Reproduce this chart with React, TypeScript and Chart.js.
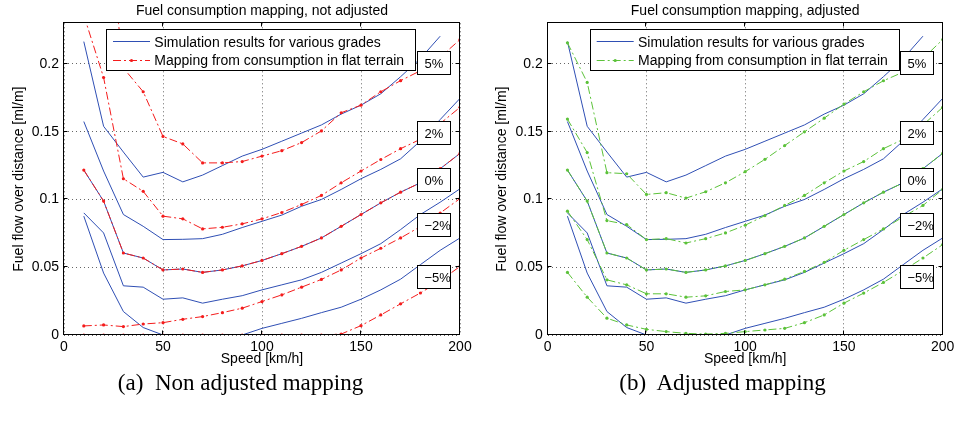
import React, { useEffect, useRef } from 'react';
import { Chart, registerables } from 'chart.js';

Chart.register(...registerables);

// Vehicle speed [km/h] at which every curve is sampled
const speeds = [10, 20, 30, 40, 50, 60, 70, 80, 90, 100, 110, 120, 130, 140, 150, 160, 170, 180, 190, 200];

// Simulated fuel flow over distance [ml/m] for each road grade
const simGrade5 = [0.2165, 0.154, 0.135, 0.1165, 0.12, 0.113, 0.118, 0.125, 0.132, 0.137, 0.143, 0.149, 0.155, 0.163, 0.1696, 0.178, 0.1906, 0.204, 0.2205, null];
const simGrade2 = [0.1575, 0.121, 0.0889, 0.0802, 0.0704, 0.0706, 0.0711, 0.0743, 0.0793, 0.0839, 0.0885, 0.095, 0.1, 0.1074, 0.1153, 0.1222, 0.13, 0.1432, 0.159, 0.1746];
const simGrade0 = [0.1217, 0.0988, 0.0605, 0.0568, 0.048, 0.0487, 0.0462, 0.048, 0.051, 0.055, 0.06, 0.0654, 0.0716, 0.0802, 0.0889, 0.0975, 0.1054, 0.1123, 0.1227, 0.134];
const simGradeM2 = [0.0901, 0.0753, 0.0363, 0.0353, 0.0264, 0.0274, 0.0235, 0.0264, 0.029, 0.0333, 0.037, 0.0407, 0.0462, 0.0531, 0.06, 0.0674, 0.0778, 0.0889, 0.098, 0.1079];
const simGradeM5 = [0.0877, 0.0457, 0.0173, 0.0055, 0, 0, 0, 0, 0, 0.0049, 0.0086, 0.0123, 0.0165, 0.0205, 0.0264, 0.0333, 0.0412, 0.0519, 0.0625, 0.0716];

// Mapping derived from flat-terrain consumption, without adjustment
const flatMap5 = [0.45, 0.33, 0.197, 0.1795, 0.1465, 0.141, 0.127, 0.127, 0.128, 0.132, 0.136, 0.142, 0.1506, 0.164, 0.1696, 0.1795, 0.1877, 0.195, 0.205, 0.218];
const flatMap2 = [0.236, 0.19, 0.1153, 0.106, 0.0877, 0.0857, 0.0783, 0.0795, 0.082, 0.0857, 0.0904, 0.0963, 0.103, 0.1123, 0.121, 0.1295, 0.1375, 0.1444, 0.156, 0.168];
const flatMap0 = simGrade0;
const flatMapM2 = [0.0067, 0.0074, 0.0062, 0.0081, 0.0091, 0.0116, 0.0136, 0.0165, 0.0198, 0.0247, 0.0296, 0.0353, 0.041, 0.048, 0.0568, 0.064, 0.0716, 0.08, 0.09, 0.1007];
const flatMapM5 = [0, 0, 0, 0, 0, 0, 0, 0, 0, 0, 0, 0, 0, 0.0007, 0.0069, 0.0148, 0.023, 0.031, 0.04, 0.0506];

// Mapping derived from flat-terrain consumption, adjusted
const adjMap5 = [0.2156, 0.1864, 0.1198, 0.119, 0.1037, 0.105, 0.101, 0.1057, 0.1123, 0.1205, 0.1296, 0.1398, 0.1499, 0.16, 0.1704, 0.1795, 0.1876, 0.194, 0.204, 0.218];
const adjMap2 = [0.1593, 0.1346, 0.0844, 0.0815, 0.0704, 0.0711, 0.0679, 0.0711, 0.0753, 0.081, 0.0881, 0.0956, 0.103, 0.1123, 0.121, 0.128, 0.1375, 0.1444, 0.155, 0.168];
const adjMap0 = simGrade0;
const adjMapM2 = [0.0914, 0.0704, 0.0407, 0.037, 0.0304, 0.0304, 0.0279, 0.0289, 0.0321, 0.0333, 0.037, 0.0412, 0.0469, 0.0536, 0.0625, 0.0704, 0.0783, 0.0872, 0.0956, 0.1074];
const adjMapM5 = [0.0462, 0.0279, 0.0124, 0.0074, 0.0042, 0.0025, 0.0012, 0.0007, 0.0012, 0.0025, 0.0037, 0.0049, 0.0091, 0.0148, 0.0235, 0.0309, 0.0388, 0.0476, 0.0568, 0.0667];

// Axis ticks
const xTicks = [0, 50, 100, 150, 200];
const xTickLabels = ['0', '50', '100', '150', '200'];
const yTicks = [0, 0.05, 0.1, 0.15, 0.2];
const yTickLabels = ['0', '0.05', '0.1', '0.15', '0.2'];

// Grade annotations placed beside the curves (data coordinates)
const gradeLabels = ['5%', '2%', '0%', '\u22122%', '\u22125%'];
const gradeLabelX = 187.1;
const gradeLabelY = [0.2002, 0.1485, 0.1143, 0.0805, 0.0427];

const simLegend = 'Simulation results for various grades';
const mapLegend = 'Mapping from consumption in flat terrain';

const SIM_COLOR = '#2f4fb4';
const FONT = '"Liberation Sans", Arial, sans-serif';
const CANVAS_W = 481;
const CANVAS_H = 372;
const PLOT_BOTTOM = 335;
const MAP_DASH = [8, 3, 2, 3];

function toPoints(values: (number | null)[]) {
  return speeds.map((s, i) => ({ x: s, y: values[i] }));
}

type PanelProps = {
  title: string;
  mapping: (number | null)[][];
  mapColor: string;
  left: number;
  axisWidth: number;
  rightPad: number;
  yTitlePad: number;
};

function Panel({ title, mapping, mapColor, left, axisWidth, rightPad, yTitlePad }: PanelProps) {
  const ref = useRef<HTMLCanvasElement | null>(null);

  useEffect(() => {
    const canvas = ref.current;
    if (!canvas) return;

    const sims = [simGrade5, simGrade2, simGrade0, simGradeM2, simGradeM5];

    const framePlugin = {
      id: 'frame',
      afterDatasetsDraw(chart: any) {
        const { ctx, chartArea: a, scales } = chart;
        const xs = scales.x;
        const ys = scales.y;
        ctx.save();

        // axes box
        ctx.strokeStyle = '#000';
        ctx.lineWidth = 1;
        const L = Math.round(a.left) - 0.5;
        const R = Math.round(a.right) - 0.5;
        const T = Math.round(a.top) - 0.5;
        const B = Math.round(a.bottom) - 0.5;
        ctx.strokeRect(L, T, R - L, B - T);

        // inward tick marks on all four sides
        ctx.beginPath();
        xTicks.forEach((v) => {
          const px = Math.round(xs.getPixelForValue(v)) - 0.5;
          ctx.moveTo(px, B);
          ctx.lineTo(px, B - 4);
          ctx.moveTo(px, T);
          ctx.lineTo(px, T + 4);
        });
        yTicks.forEach((v) => {
          const py = Math.round(ys.getPixelForValue(v)) - 0.5;
          ctx.moveTo(L, py);
          ctx.lineTo(L + 4, py);
          ctx.moveTo(R, py);
          ctx.lineTo(R - 4, py);
        });
        ctx.stroke();

        // title
        ctx.fillStyle = '#000';
        ctx.font = `14px ${FONT}`;
        ctx.textAlign = 'center';
        ctx.textBaseline = 'alphabetic';
        ctx.fillText(title, (a.left + a.right) / 2, 15);

        // legend
        const lx = Math.round(a.left + 43) - 0.5;
        const ly = 29.5;
        ctx.fillStyle = '#fff';
        ctx.fillRect(lx, ly, 309, 41);
        ctx.strokeStyle = '#000';
        ctx.strokeRect(lx, ly, 309, 41);

        ctx.strokeStyle = SIM_COLOR;
        ctx.beginPath();
        ctx.moveTo(a.left + 49, 41.5);
        ctx.lineTo(a.left + 86, 41.5);
        ctx.stroke();

        ctx.strokeStyle = mapColor;
        ctx.setLineDash(MAP_DASH);
        ctx.beginPath();
        ctx.moveTo(a.left + 49, 60.5);
        ctx.lineTo(a.left + 86, 60.5);
        ctx.stroke();
        ctx.setLineDash([]);
        ctx.fillStyle = mapColor;
        ctx.beginPath();
        ctx.arc(a.left + 67.5, 60.5, 1.6, 0, Math.PI * 2);
        ctx.fill();

        ctx.fillStyle = '#000';
        ctx.textAlign = 'left';
        ctx.fillText(simLegend, a.left + 90.3, 46.5);
        ctx.fillText(mapLegend, a.left + 90.3, 65);

        // grade labels
        ctx.font = `13px ${FONT}`;
        gradeLabels.forEach((txt, i) => {
          const cx = xs.getPixelForValue(gradeLabelX);
          const cy = ys.getPixelForValue(gradeLabelY[i]);
          const bx = Math.round(cx - 16.5) - 0.5;
          const by = Math.round(cy - 11.5) - 0.5;
          ctx.fillStyle = '#fff';
          ctx.fillRect(bx, by, 33, 23);
          ctx.strokeStyle = '#000';
          ctx.strokeRect(bx, by, 33, 23);
          ctx.fillStyle = '#000';
          ctx.fillText(txt, bx + 7, by + 16.5);
        });

        ctx.restore();
      },
    };

    const mapDatasets = mapping.map((vals) => ({
      label: mapLegend,
      data: toPoints(vals),
      borderColor: mapColor,
      backgroundColor: mapColor,
      pointBackgroundColor: mapColor,
      borderWidth: 1,
      borderDash: MAP_DASH,
      pointRadius: 1.6,
      pointBorderWidth: 0,
      tension: 0,
      clip: 0,
      order: 1,
    }));
    const simDatasets = sims.map((vals) => ({
      label: simLegend,
      data: toPoints(vals),
      borderColor: SIM_COLOR,
      backgroundColor: SIM_COLOR,
      borderWidth: 1,
      pointRadius: 0,
      tension: 0,
      clip: 0,
      order: 2,
    }));

    const tickFont = { family: FONT, size: 14 };

    const chart = new Chart(canvas, {
      type: 'line',
      data: { datasets: [...mapDatasets, ...simDatasets] as any },
      plugins: [framePlugin],
      options: {
        animation: false,
        responsive: false,
        events: [],
        layout: { padding: { top: 23.3, right: rightPad, left: 0, bottom: 0 } },
        plugins: {
          legend: { display: false },
          tooltip: { enabled: false },
          title: { display: false },
        },
        scales: {
          x: {
            type: 'linear',
            min: 0,
            max: 200,
            afterBuildTicks: (axis: any) => {
              axis.ticks = xTicks.map((v) => ({ value: v }));
            },
            afterFit: (scale: any) => {
              scale.height = CANVAS_H - PLOT_BOTTOM;
              scale.paddingLeft = 0;
              scale.paddingRight = 0;
            },
            ticks: {
              font: tickFont,
              color: '#000',
              padding: 4,
              maxRotation: 0,
              callback: (_v: any, i: number) => xTickLabels[i],
            },
            grid: { color: 'rgba(0,0,0,0.6)', lineWidth: 1, drawTicks: false },
            border: { display: false, dash: [1, 3] },
            title: {
              display: true,
              text: 'Speed [km/h]',
              font: tickFont,
              color: '#000',
              padding: { top: 0, bottom: 4 },
            },
          },
          y: {
            type: 'linear',
            min: 0,
            max: 0.23,
            afterBuildTicks: (axis: any) => {
              axis.ticks = yTicks.map((v) => ({ value: v }));
            },
            afterFit: (scale: any) => {
              scale.width = axisWidth;
              scale.paddingTop = 0;
              scale.paddingBottom = 0;
            },
            ticks: {
              font: tickFont,
              color: '#000',
              padding: 5,
              callback: (_v: any, i: number) => yTickLabels[i],
            },
            grid: { color: 'rgba(0,0,0,0.6)', lineWidth: 1, drawTicks: false },
            border: { display: false, dash: [1, 3] },
            title: {
              display: true,
              text: 'Fuel flow over distance [ml/m]',
              font: tickFont,
              color: '#000',
              padding: { top: yTitlePad, bottom: 0 },
            },
          },
        },
      } as any,
    });

    return () => chart.destroy();
  }, [title, mapping, mapColor, axisWidth, rightPad, yTitlePad]);

  return (
    <canvas
      ref={ref}
      width={CANVAS_W}
      height={CANVAS_H}
      style={{ position: 'absolute', left, top: 0, width: CANVAS_W, height: CANVAS_H, display: 'block' }}
    />
  );
}

const captionStyle: React.CSSProperties = {
  position: 'absolute',
  top: 370,
  width: CANVAS_W,
  textAlign: 'center',
  fontFamily: '"Liberation Serif", "Times New Roman", serif',
  fontSize: 23,
  lineHeight: '26px',
  color: '#000',
  whiteSpace: 'pre',
};

const notAdjusted = [flatMap5, flatMap2, flatMap0, flatMapM2, flatMapM5];
const adjusted = [adjMap5, adjMap2, adjMap0, adjMapM2, adjMapM5];

export default function App() {
  return (
    <div style={{ position: 'absolute', left: 0, top: 0, width: 963, height: 421, background: '#fff', overflow: 'hidden' }}>
      <Panel
        title="Fuel consumption mapping, not adjusted"
        mapping={notAdjusted}
        mapColor="#f41c1c"
        left={0}
        axisWidth={64}
        rightPad={21}
        yTitlePad={10.6}
      />
      <Panel
        title="Fuel consumption mapping, adjusted"
        mapping={adjusted}
        mapColor="#5cc23a"
        left={482}
        axisWidth={65.7}
        rightPad={20.3}
        yTitlePad={12}
      />
      <div style={{ ...captionStyle, left: 0 }}>(a)  Non adjusted mapping</div>
      <div style={{ ...captionStyle, left: 482 }}>(b)  Adjusted mapping</div>
    </div>
  );
}
